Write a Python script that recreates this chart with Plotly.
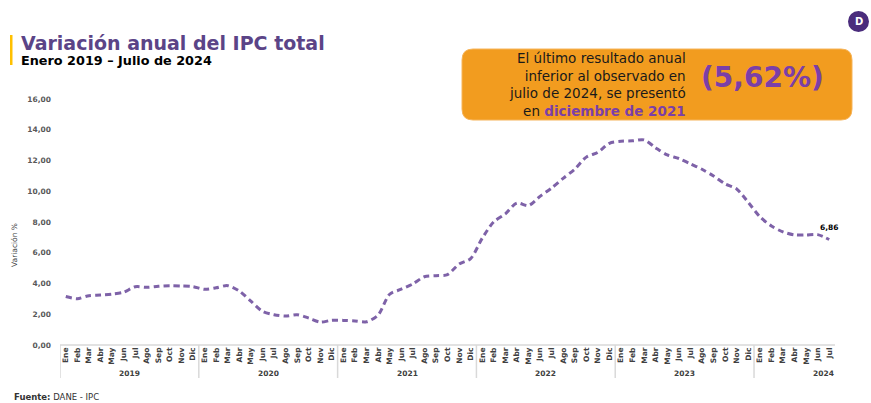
import plotly.graph_objects as go

months = ["Ene", "Feb", "Mar", "Abr", "May", "Jun", "Jul", "Ago", "Sep", "Oct", "Nov", "Dic"]
years = ["2019", "2020", "2021", "2022", "2023", "2024"]
ipc = [
    3.15, 3.01, 3.21, 3.25, 3.31, 3.43, 3.79, 3.75, 3.82, 3.86, 3.84, 3.80,   # 2019
    3.62, 3.72, 3.86, 3.51, 2.85, 2.19, 1.97, 1.88, 1.97, 1.75, 1.49, 1.61,   # 2020
    1.60, 1.56, 1.51, 1.95, 3.30, 3.63, 3.97, 4.44, 4.51, 4.58, 5.26, 5.62,   # 2021
    6.94, 8.01, 8.53, 9.23, 9.07, 9.67, 10.21, 10.84, 11.44, 12.22, 12.53, 13.12,  # 2022
    13.25, 13.28, 13.34, 12.82, 12.36, 12.13, 11.78, 11.43, 10.99, 10.48, 10.15, 9.28,  # 2023
    8.35, 7.74, 7.36, 7.16, 7.16, 7.18, 6.86,  # 2024
]
ytick_vals = [0, 2, 4, 6, 8, 10, 12, 14, 16]

W, H = 871, 403
L, R, T, B = 60, 835, 99, 345
PW, PH = R - L, B - T
FONT = "DejaVu Sans"


def px(x):
    return (x - L) / PW


def py(y):
    return (B - y) / PH


n = len(ipc)
xs = list(range(n))
tick_text = [months[i % 12] for i in xs]

fig = go.Figure()
fig.add_trace(go.Scatter(
    x=xs, y=ipc, mode="lines",
    line=dict(color="#7E62A8", width=3, dash="6px,4px", shape="spline", smoothing=0.8),
    hoverinfo="skip", showlegend=False,
))
# end label
fig.add_trace(go.Scatter(
    x=[xs[-1]], y=[ipc[-1]], mode="markers+text",
    marker=dict(size=10, opacity=0),
    text=[f"{ipc[-1]:.2f}".replace(".", ",")],
    textposition="top center", cliponaxis=False,
    textfont=dict(family=FONT, size=7.5, color="#000000", weight="bold"),
    showlegend=False, hoverinfo="skip",
))

shapes = []
annotations = []

# year separators and labels
for k, yr in enumerate(years):
    x0 = 12 * k - 0.5
    shapes.append(dict(type="line", xref="x", yref="paper", x0=x0, x1=x0,
                       y0=0, y1=py(378), line=dict(color="#D9D9D9", width=1.5)))
    annotations.append(dict(x=12 * k + 5.5, y=py(373), xref="x", yref="paper",
                            text=yr, showarrow=False, xanchor="center", yanchor="middle",
                            font=dict(family=FONT, size=7.5, color="#404040", weight="bold")))

# axis line
shapes.append(dict(type="line", xref="paper", yref="paper", x0=0, x1=1, y0=0, y1=0,
                   line=dict(color="#D9D9D9", width=1.5)))

# yellow bar next to title
shapes.append(dict(type="rect", xref="paper", yref="paper", x0=px(10), x1=px(12.5),
                   y0=py(65), y1=py(35), fillcolor="#FFC000", line=dict(width=0)))

# callout rounded box
bx0, bx1, by0, by1, r = 462, 852, 49, 120, 11
rx, ry = r / PW, r / PH
X0, X1, Ytop, Ybot = px(bx0), px(bx1), py(by0), py(by1)
path = (f"M {X0+rx},{Ytop} L {X1-rx},{Ytop} Q {X1},{Ytop} {X1},{Ytop-ry} "
        f"L {X1},{Ybot+ry} Q {X1},{Ybot} {X1-rx},{Ybot} L {X0+rx},{Ybot} "
        f"Q {X0},{Ybot} {X0},{Ybot+ry} L {X0},{Ytop-ry} Q {X0},{Ytop} {X0+rx},{Ytop} Z")
shapes.append(dict(type="path", xref="paper", yref="paper", path=path,
                   fillcolor="#F29C1F", line=dict(color="#F6B45A", width=1)))

# logo circle
shapes.append(dict(type="circle", xref="paper", yref="paper",
                   x0=px(848), x1=px(869), y0=py(32), y1=py(11),
                   fillcolor="#4A2C7C", line=dict(width=0)))

callout_lines = [
    "El último resultado anual",
    "inferior al observado en",
    "julio de 2024, se presentó",
    "en <b><span style='color:#7B3FA8'>diciembre de 2021</span></b>",
]
annotations.append(dict(x=px(688), y=py(84.5), xref="paper", yref="paper",
                        text="<br>".join(callout_lines), showarrow=False,
                        xanchor="right", yanchor="middle", align="right",
                        font=dict(family=FONT, size=13.5, color="#1A1A1A")))
annotations.append(dict(x=px(762), y=py(77), xref="paper", yref="paper",
                        text="<b>(5,62%)</b>", showarrow=False, xanchor="center", yanchor="middle",
                        font=dict(family=FONT, size=28, color="#7B3FA8")))

# title and subtitle
annotations.append(dict(x=px(19), y=py(43), xref="paper", yref="paper",
                        text="<b>Variación anual del IPC total</b>", showarrow=False,
                        xanchor="left", yanchor="middle",
                        font=dict(family=FONT, size=19, color="#5B4487")))
annotations.append(dict(x=px(19), y=py(61), xref="paper", yref="paper",
                        text="<b>Enero 2019 – Julio de 2024</b>", showarrow=False,
                        xanchor="left", yanchor="middle",
                        font=dict(family=FONT, size=12.8, color="#000000")))

# y-axis title
annotations.append(dict(x=px(14), y=py(245), xref="paper", yref="paper",
                        text="Variación %", showarrow=False, textangle=-90,
                        xanchor="center", yanchor="middle",
                        font=dict(family=FONT, size=7.5, color="#404040")))

# source
annotations.append(dict(x=px(12), y=py(397), xref="paper", yref="paper",
                        text="<b>Fuente:</b> DANE - IPC", showarrow=False,
                        xanchor="left", yanchor="middle",
                        font=dict(family=FONT, size=8.5, color="#333333")))

# logo letter
annotations.append(dict(x=px(858.5), y=py(21.5), xref="paper", yref="paper",
                        text="<b>D</b>", showarrow=False, xanchor="center", yanchor="middle",
                        font=dict(family=FONT, size=10, color="#FFFFFF")))

fig.update_layout(
    width=W, height=H,
    margin=dict(l=L, r=W - R, t=T, b=H - B),
    paper_bgcolor="white", plot_bgcolor="white",
    separators=",.",
    shapes=shapes, annotations=annotations,
    xaxis=dict(range=[-0.5, n - 0.5], tickmode="array", tickvals=xs, ticktext=tick_text,
               tickangle=-90, showgrid=False, zeroline=False, showline=False, ticks="",
               tickfont=dict(family=FONT, size=7.5, color="#404040", weight="bold"),
               ticklabelstandoff=0, fixedrange=True),
    yaxis=dict(range=[0, 16], tickmode="array", tickvals=ytick_vals, tickformat=".2f",
               showgrid=False, zeroline=False, showline=False, ticks="",
               tickfont=dict(family=FONT, size=7.5, color="#595959", weight="bold"),
               ticklabelstandoff=8, fixedrange=True),
    showlegend=False,
)

fig.write_html("out.html", config={"displayModeBar": False},
               post_script="document.body.style.margin='0';document.body.style.overflow='hidden';")
